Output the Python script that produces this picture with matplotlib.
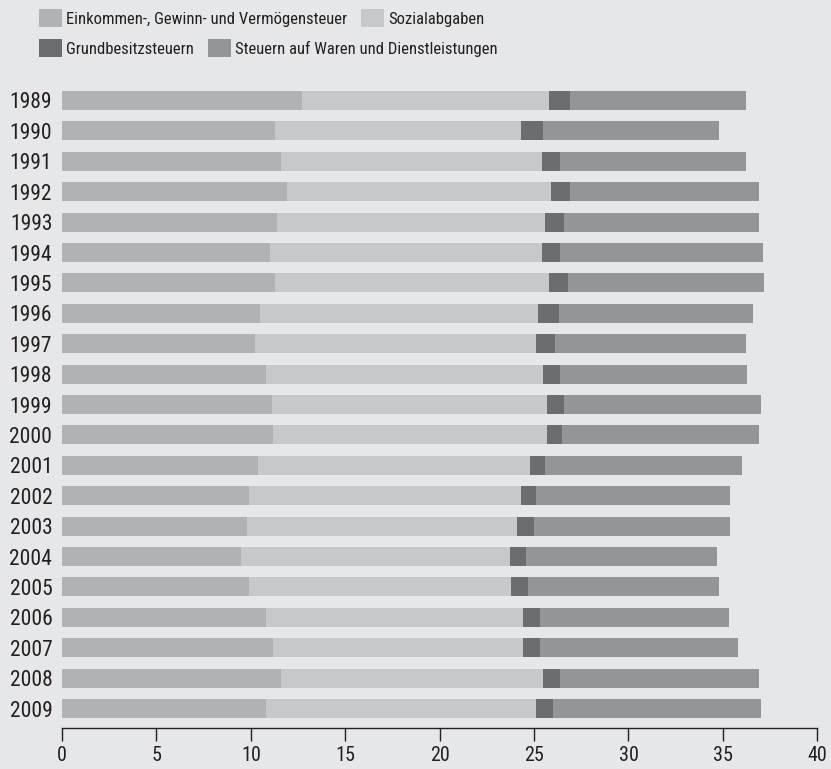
import numpy as np
import matplotlib.pyplot as plt
from matplotlib import font_manager
from matplotlib.patches import Patch

# pick a narrow sans font if one is around
names = {f.name for f in font_manager.fontManager.ttflist}
font = "DejaVu Sans"
for cand in ["Liberation Sans Narrow", "Roboto Condensed", "Open Sans Condensed", "Lato"]:
    if cand in names:
        font = cand
        break
plt.rcParams["font.family"] = [font, "DejaVu Sans"]

years = [str(y) for y in range(1989, 2010)]
einkommen = [12.7, 11.3, 11.6, 11.9, 11.4, 11.0, 11.3, 10.5, 10.2, 10.8, 11.1,
             11.2, 10.4, 9.9, 9.8, 9.5, 9.9, 10.8, 11.2, 11.6, 10.8]
sozial = [13.1, 13.0, 13.8, 14.0, 14.2, 14.4, 14.5, 14.7, 14.9, 14.7, 14.6,
          14.5, 14.4, 14.4, 14.3, 14.2, 13.9, 13.6, 13.2, 13.9, 14.3]
grund = [1.1, 1.2, 1.0, 1.0, 1.0, 1.0, 1.0, 1.1, 1.0, 0.9, 0.9,
         0.8, 0.8, 0.8, 0.9, 0.9, 0.9, 0.9, 0.9, 0.9, 0.9]
waren = [9.3, 9.3, 9.8, 10.0, 10.3, 10.7, 10.4, 10.3, 10.1, 9.9, 10.4,
         10.4, 10.4, 10.3, 10.4, 10.1, 10.1, 10.0, 10.5, 10.5, 11.0]

labels = ["Einkommen-, Gewinn- und Vermögensteuer", "Sozialabgaben",
          "Grundbesitzsteuern", "Steuern auf Waren und Dienstleistungen"]
colors = ["#b1b2b5", "#c7c8ca", "#6c6d71", "#949598"]
bg = "#e6e7e9"
txt = "#231f20"

fig = plt.figure(figsize=(8.31, 7.69), dpi=100, facecolor=bg)
ax = fig.add_axes([0.0746, 0.0537, 0.9089, 0.8354])
ax.set_facecolor(bg)

y = np.arange(len(years))
left = np.zeros(len(years))
for vals, c in zip([einkommen, sozial, grund, waren], colors):
    ax.barh(y, vals, left=left, height=0.625, color=c, linewidth=0)
    left += np.array(vals)

ax.set_ylim(20.63, -0.5)
ax.set_xlim(0, 40)
ax.set_yticks(y)
ax.set_yticklabels(years)
ax.set_xticks(range(0, 41, 5))
ax.tick_params(axis="y", length=0, pad=7, labelsize=15.5, labelcolor=txt)
ax.tick_params(axis="x", length=9, width=1, color=txt, pad=4.5, labelsize=14.5, labelcolor=txt)
for s in ["top", "right", "left"]:
    ax.spines[s].set_visible(False)
ax.spines["bottom"].set_color(txt)
ax.spines["bottom"].set_linewidth(1)

# legend in two rows
for row, idx in enumerate([(0, 1), (2, 3)]):
    handles = [Patch(facecolor=colors[i], edgecolor="none") for i in idx]
    fig.legend(handles, [labels[i] for i in idx], ncol=2, loc="upper left",
               bbox_to_anchor=(0.0469, 0.988 - row * 0.039), frameon=False,
               fontsize=12, handlelength=1.4, handleheight=1.3,
               handletextpad=0.25, columnspacing=0.8, borderpad=0,
               borderaxespad=0, labelcolor=txt)

fig.savefig("out.png", dpi=100, facecolor=bg)
